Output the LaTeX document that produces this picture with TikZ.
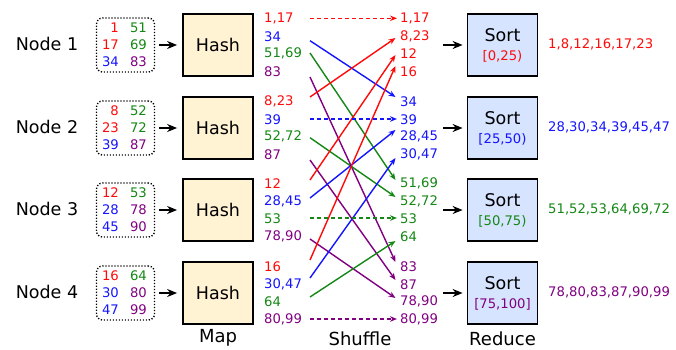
\documentclass[tikz,border=0pt]{standalone}
\usepackage{fontspec}
\setmainfont{DejaVu Sans}
\usetikzlibrary{arrows.meta}
\definecolor{cr}{RGB}{255,10,10}
\definecolor{cb}{RGB}{20,20,255}
\definecolor{cg}{RGB}{20,135,20}
\definecolor{cp}{RGB}{128,0,128}
\definecolor{hashfill}{RGB}{255,243,212}
\definecolor{sortfill}{RGB}{214,228,255}
\tikzset{
  biglbl/.style={font=\fontsize{17.5}{20}\selectfont, inner sep=0pt},
  steplbl/.style={font=\fontsize{18}{21}\selectfont, inner sep=0pt},
  num/.style={font=\fontsize{13.2}{15}\selectfont, inner sep=0pt},
  stagebox/.style={draw, line width=1.8pt, minimum width=70pt, minimum height=62pt, inner sep=0pt},
  hashbox/.style={stagebox, fill=hashfill},
  sortbox/.style={stagebox, fill=sortfill},
  inbox/.style={draw, line width=1.4pt, dash pattern=on 1.2pt off 1.8pt, rounded corners=6pt, minimum width=58pt, minimum height=54pt, inner sep=0pt},
  flow/.style={line width=1.4pt, -{Stealth[length=7pt,width=5.5pt]}},
  keep/.style={flow, dash pattern=on 4pt off 3pt},
  feed/.style={line width=1.4pt, -{Stealth[length=10pt,width=8pt]}}
}
\begin{document}
\begin{tikzpicture}[x=1pt,y=-1pt]
\useasboundingbox (0,0) rectangle (676,350);
% rows
\foreach \i/\y in {1/45,2/128,3/210,4/293}{
  \node[biglbl] (nd\i) at (47,\y-1) {Node \i};
  \node[inbox] (in\i) at (125.5,\y) {};
  \node[hashbox] (h\i) at (218,\y) {};
  \node[biglbl] (ht\i) at (218,\y) {Hash};
  \node[sortbox] (s\i) at (502.5,\y) {};
  \draw[feed, shorten <=4pt, shorten >=5pt] (in\i.east) -- (h\i.west);
  \coordinate (ra\i) at (443,\y);
  \draw[feed, shorten >=4pt] (ra\i) -- (s\i.west);
}
% input numbers
\foreach \i/\y/\a/\b/\c/\ca/\cb/\cc/\d/\e/\f/\cd/\ce/\cf in {
  1/45/1/17/34/cr/cr/cb/51/69/83/cg/cg/cp,
  2/128/8/23/39/cr/cr/cb/52/72/87/cg/cg/cp,
  3/210/12/28/45/cr/cb/cb/53/78/90/cg/cp/cp,
  4/293/16/30/47/cr/cb/cb/64/80/99/cg/cp/cp}{
  \node[num, anchor=east, text=\ca] (ia\i) at (119,\y-17) {\a};
  \node[num, anchor=east, text=\cb] (ib\i) at (119,\y) {\b};
  \node[num, anchor=east, text=\cc] (ic\i) at (119,\y+17) {\c};
  \node[num, anchor=east, text=\cd] (id\i) at (147,\y-17) {\d};
  \node[num, anchor=east, text=\ce] (ie\i) at (147,\y) {\e};
  \node[num, anchor=east, text=\cf] (if\i) at (147,\y+17) {\f};
}
% shuffle labels, left
\foreach \i/\y/\a/\b/\c/\d in {
  1/45/{1,17}/34/{51,69}/83,
  2/128/{8,23}/39/{52,72}/87,
  3/210/12/{28,45}/53/{78,90},
  4/293/16/{30,47}/64/{80,99}}{
  \node[num, anchor=west, text=cr] (la\i) at (264,\y-26.25) {\a};
  \node[num, anchor=west, text=cb] (lb\i) at (264,\y-8.75) {\b};
  \node[num, anchor=west, text=cg] (lc\i) at (264,\y+8.75) {\c};
  \node[num, anchor=west, text=cp] (ld\i) at (264,\y+26.25) {\d};
}
% shuffle labels, right
\foreach \i/\y/\a/\b/\c/\d/\col in {
  1/45/{1,17}/{8,23}/12/16/cr,
  2/128/34/39/{28,45}/{30,47}/cb,
  3/210/{51,69}/{52,72}/53/64/cg,
  4/293/83/87/{78,90}/{80,99}/cp}{
  \node[num, anchor=west, text=\col] (qa\i) at (400,\y-26.25) {\a};
  \node[num, anchor=west, text=\col] (qb\i) at (400,\y-8.75) {\b};
  \node[num, anchor=west, text=\col] (qc\i) at (400,\y+8.75) {\c};
  \node[num, anchor=west, text=\col] (qd\i) at (400,\y+26.25) {\d};
}
% shuffle arrows (crossing)
\foreach \n/\sy/\ey/\col in {
  2/40.7/97/cb, 3/53/180/cg, 4/77/262/cp,
  5/97/38/cr, 7/137.7/197/cg, 8/160/280/cp,
  9/180/55/cr, 10/198/130/cb, 12/239/298/cp,
  13/260/66/cr, 14/278/158/cb, 15/297/241/cg}{
  \coordinate (fa\n) at (310,\sy);
  \coordinate (fb\n) at (395.5,\ey);
  \draw[flow, color=\col] (fa\n) -- (fb\n);
}
% shuffle arrows (staying)
\foreach \n/\sy/\col in {1/18.3/cr, 6/119/cb, 11/218/cg, 16/319/cp}{
  \coordinate (fa\n) at (310,\sy);
  \coordinate (fb\n) at (397,\sy);
  \draw[keep, color=\col] (fa\n) -- (fb\n);
}
% sort texts
\foreach \i/\y/\r/\col/\out in {
  1/45/{[0,25)}/cr/{1,8,12,16,17,23},
  2/128/{[25,50)}/cb/{28,30,34,39,45,47},
  3/210/{[50,75)}/cg/{51,52,53,64,69,72},
  4/293/{[75,100]}/cp/{78,80,83,87,90,99}}{
  \node[biglbl] (st\i) at (502.5,\y-10) {Sort};
  \node[num, text=\col] (sr\i) at (502.5,\y+11) {\r};
  \node[num, anchor=west, text=\col] (out\i) at (548,\y-1) {\out};
}
% stage labels
\node[steplbl] (map) at (218,338) {Map};
\node[steplbl] (shuf) at (360,338.5) {Shuffle};
\node[steplbl] (red) at (502.5,338.5) {Reduce};
\end{tikzpicture}
\end{document}
